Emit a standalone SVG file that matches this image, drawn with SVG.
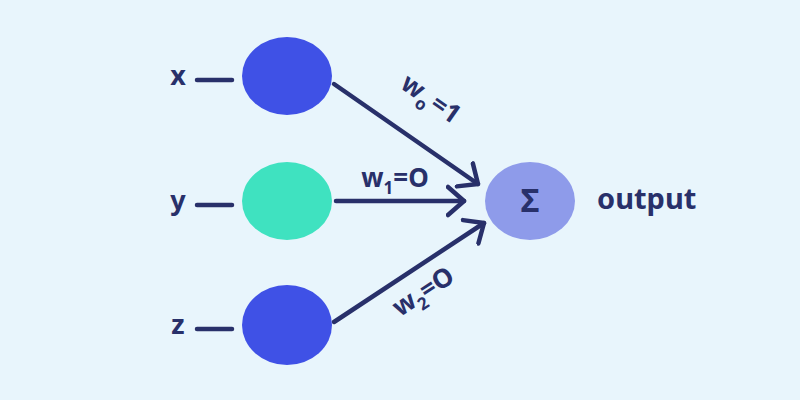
<svg xmlns="http://www.w3.org/2000/svg" width="800" height="400" viewBox="0 0 800 400">
<style>
.lbl{font-family:"Noto Sans","Open Sans",sans-serif;font-weight:700;fill:#28306a}
.con{stroke:#28306a;stroke-width:4.5;stroke-linecap:round;fill:none}
</style>
<defs>
<marker id="ah" markerUnits="userSpaceOnUse" markerWidth="30" markerHeight="34" refX="18" refY="15" orient="auto" viewBox="0 0 30 30">
<path d="M2,1 L18,15 L2,29" fill="none" stroke="#28306a" stroke-width="4.5" stroke-linecap="round" stroke-linejoin="round"/>
</marker>
</defs>
<rect width="800" height="400" fill="#e8f5fc"/>
<g id="connectors">
<line class="con" x1="197" y1="80" x2="232" y2="80"/>
<line class="con" x1="197" y1="205" x2="232" y2="205"/>
<line class="con" x1="197" y1="329" x2="232" y2="329"/>
<line class="con" x1="334" y1="84" x2="478" y2="184" marker-end="url(#ah)"/>
<line class="con" x1="336" y1="201" x2="464" y2="201" marker-end="url(#ah)"/>
<line class="con" x1="334" y1="322" x2="484" y2="223" marker-end="url(#ah)"/>
</g>
<g id="node-x">
<text class="lbl" x="178" y="85" font-size="27" text-anchor="middle">x</text>
<ellipse cx="287" cy="76" rx="45" ry="39" fill="#3f51e6"/>
</g>
<g id="node-y">
<text class="lbl" x="178" y="210" font-size="27" text-anchor="middle">y</text>
<ellipse cx="287" cy="201" rx="45" ry="39" fill="#3fe2c0"/>
</g>
<g id="node-z">
<text class="lbl" x="178" y="334" font-size="27" text-anchor="middle">z</text>
<ellipse cx="287" cy="325" rx="45" ry="40" fill="#3f51e6"/>
</g>
<g id="node-sum">
<ellipse cx="530" cy="201" rx="45" ry="39" fill="#8e9bea"/>
<text class="lbl" x="530" y="212" font-size="32" text-anchor="middle">Σ</text>
<text class="lbl" x="597" y="209" font-size="29">output</text>
</g>
<g id="weights">
<text class="lbl" font-size="26" transform="translate(426,106) rotate(35)" text-anchor="middle">w<tspan font-size="17" dy="7">o</tspan><tspan dx="3" dy="-7">=1</tspan></text>
<text class="lbl" font-size="26" x="395" y="187" text-anchor="middle">w<tspan font-size="17" dy="7">1</tspan><tspan dy="-7">=O</tspan></text>
<text class="lbl" font-size="26" transform="translate(428,299) rotate(-33)" text-anchor="middle">w<tspan font-size="17" dy="7">2</tspan><tspan dy="-7">=O</tspan></text>
</g>
</svg>
